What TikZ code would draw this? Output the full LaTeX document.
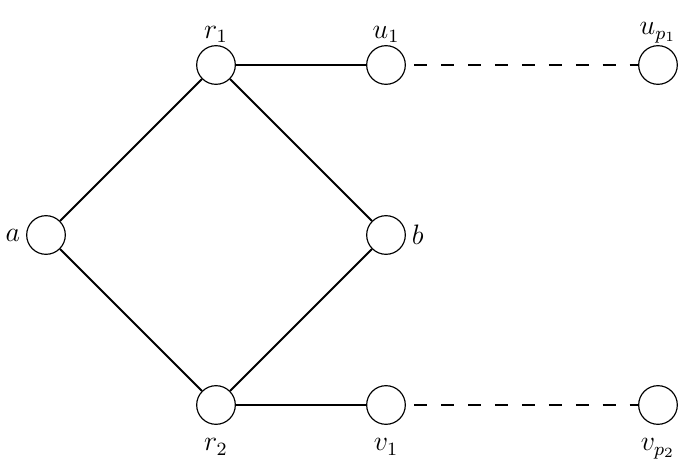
\documentclass[tikz,border=0pt]{standalone}
\usepackage{amsmath, amssymb}
\usepackage{tikz}
\usetikzlibrary{positioning}

\begin{document}
\begin{tikzpicture}[
    x=0.015cm, y=-0.015cm,
    font=\large,
    vertex/.style={circle, draw=black, line width=0.5pt, fill=white, minimum size=0.58cm, inner sep=0pt},
    edge/.style={draw=black, line width=0.9pt},
    far/.style={edge, dash pattern=on 5.5pt off 6pt, dash phase=8pt},
    uplabel/.style={label={[label distance=-2.5pt]above:#1}},
    downlabel/.style={label={[label distance=2.4pt]below:#1}},
    leftlabel/.style={label={[label distance=-1pt]left:#1}},
    rightlabel/.style={label={[label distance=-1pt]right:#1}}
]
\useasboundingbox (0,0) rectangle (683,475);

\node[vertex, leftlabel=$a$] (a) at (46,235) {};
\node[vertex, uplabel=$r_1$] (r1) at (216,65) {};
\node[vertex, downlabel=$r_2$] (r2) at (216,405) {};
\node[vertex, rightlabel=$b$] (b) at (386,235) {};
\node[vertex, uplabel=$u_1$] (u1) at (386,65) {};
\node[vertex, downlabel=$v_1$] (v1) at (386,405) {};
\node[vertex, uplabel=$u_{p_1}$] (up) at (658,65) {};
\node[vertex, downlabel=$v_{p_2}$] (vp) at (658,405) {};

\draw[edge] (a) -- (r1);
\draw[edge] (a) -- (r2);
\draw[edge] (r1) -- (b);
\draw[edge] (r2) -- (b);
\draw[edge] (r1) -- (u1);
\draw[edge] (r2) -- (v1);
\draw[far] (u1) -- (up);
\draw[far] (v1) -- (vp);

\end{tikzpicture}
\end{document}
